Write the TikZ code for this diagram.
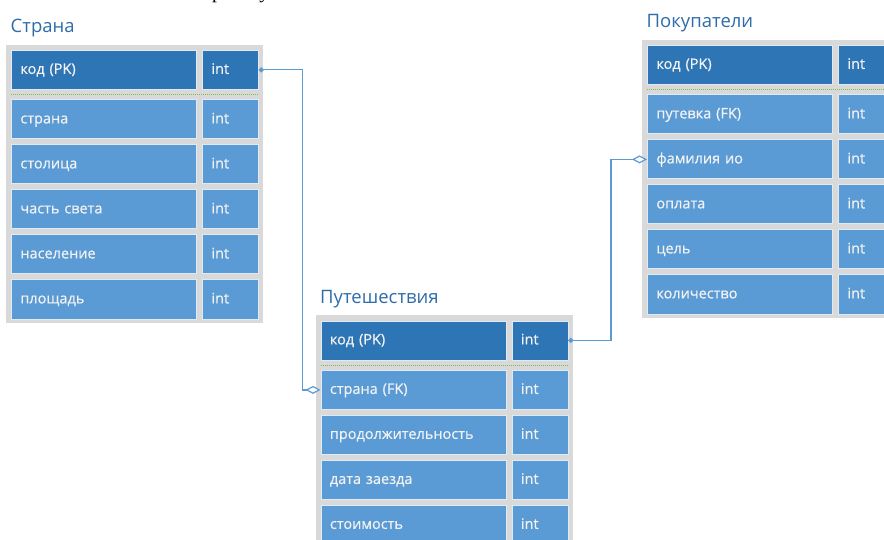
\documentclass[tikz,border=0pt]{standalone}
\usepackage{fontspec}
\setmainfont{Open Sans}
\newfontfamily\cellfont[FakeBold=0.6]{Open Sans}
\newfontfamily\bodyserif{Liberation Serif}
\usetikzlibrary{arrows.meta}

\definecolor{pkfill}{RGB}{46,117,182}
\definecolor{attrfill}{RGB}{91,155,213}
\definecolor{framegray}{RGB}{217,217,217}
\definecolor{titleblue}{RGB}{46,108,170}
\definecolor{linkblue}{RGB}{91,155,213}
\definecolor{sepgreen}{RGB}{130,185,80}
\definecolor{cellrim}{RGB}{222,235,247}
\definecolor{celltext}{RGB}{242,242,242}

\tikzset{
  cell/.style={draw=cellrim, line width=0.8pt, inner xsep=9pt, inner ysep=0pt,
    anchor=north west, minimum height=39pt, text height=10.5pt, text depth=2.5pt,
    align=left, text=celltext, font=\cellfont\fontsize{14.5}{16}\selectfont},
  namecell/.style={cell, text width=167pt},
  typecell/.style={cell, text width=38pt},
  tableframe/.style={fill=framegray, draw=none, anchor=north west, inner sep=0pt,
    minimum width=257pt},
  tabletitle/.style={anchor=base west, inner sep=0pt, text=titleblue,
    font=\fontsize{18.5}{22}\selectfont},
  keysep/.style={draw=sepgreen, line width=0.9pt, dash pattern=on 1pt off 1pt},
  link/.style={draw=linkblue, line width=1.2pt,
    {Circle[length=5pt]}-{Diamond[open, length=15pt, width=8pt, fill=white]}},
}

% #1 id, #2 left, #3 top, #4 title, #5 number of attributes, #6 attribute names
\newcommand\erdtable[6]{%
  \begin{scope}[shift={(#2,#3)}]
    \node[tableframe, minimum height={53.5pt+45pt*#5}] (#1-frame) at (0,0) {};
    \node[tabletitle] (#1-title) at (4.5,-11.5) {#4};
    \node[namecell, fill=pkfill] (#1-pk) at (5,5.5) {код (PK)};
    \node[typecell, fill=pkfill] (#1-pk-type) at (196,5.5) {int};
    \draw[keysep] (5,50) -- (252,50);
    \foreach \attr [count=\i from 0] in {#6} {
      \node[namecell, fill=attrfill] (#1-a\i) at (5,55+45*\i) {\attr};
      \node[typecell, fill=attrfill] (#1-a\i-type) at (196,55+45*\i) {int};
    }
  \end{scope}}

\begin{document}
\begin{tikzpicture}[x=1pt, y=-1pt]
  \useasboundingbox (0,0) rectangle (884,540);
  \fill[white] (0,0) rectangle (884,540);
  \clip (0,0) rectangle (884,540);

  % line of body text running above the diagram
  \node[anchor=base west, inner sep=0pt, font=\bodyserif\fontsize{20}{24}\selectfont]
    (bodyline) at (212,-1) {работу};

  \erdtable{country}{6}{44.5}{Страна}{5}%
    {{страна},{столица},{часть света},{население},{площадь}}
  \erdtable{trip}{315.5}{315}{Путешествия}{4}%
    {{страна (FK)},{продолжительность},{дата заезда},{стоимость}}
  \erdtable{buyer}{642}{39.5}{Покупатели}{5}%
    {{путевка (FK)},{фамилия ио},{оплата},{цель},{количество}}

  \draw[link] (country-pk-type.east) -- ++(43.5,0) |- (trip-a0.west);
  \draw[link] (trip-pk-type.east) -- ++(42.7,0) |- (buyer-a1.west);
\end{tikzpicture}
\end{document}
